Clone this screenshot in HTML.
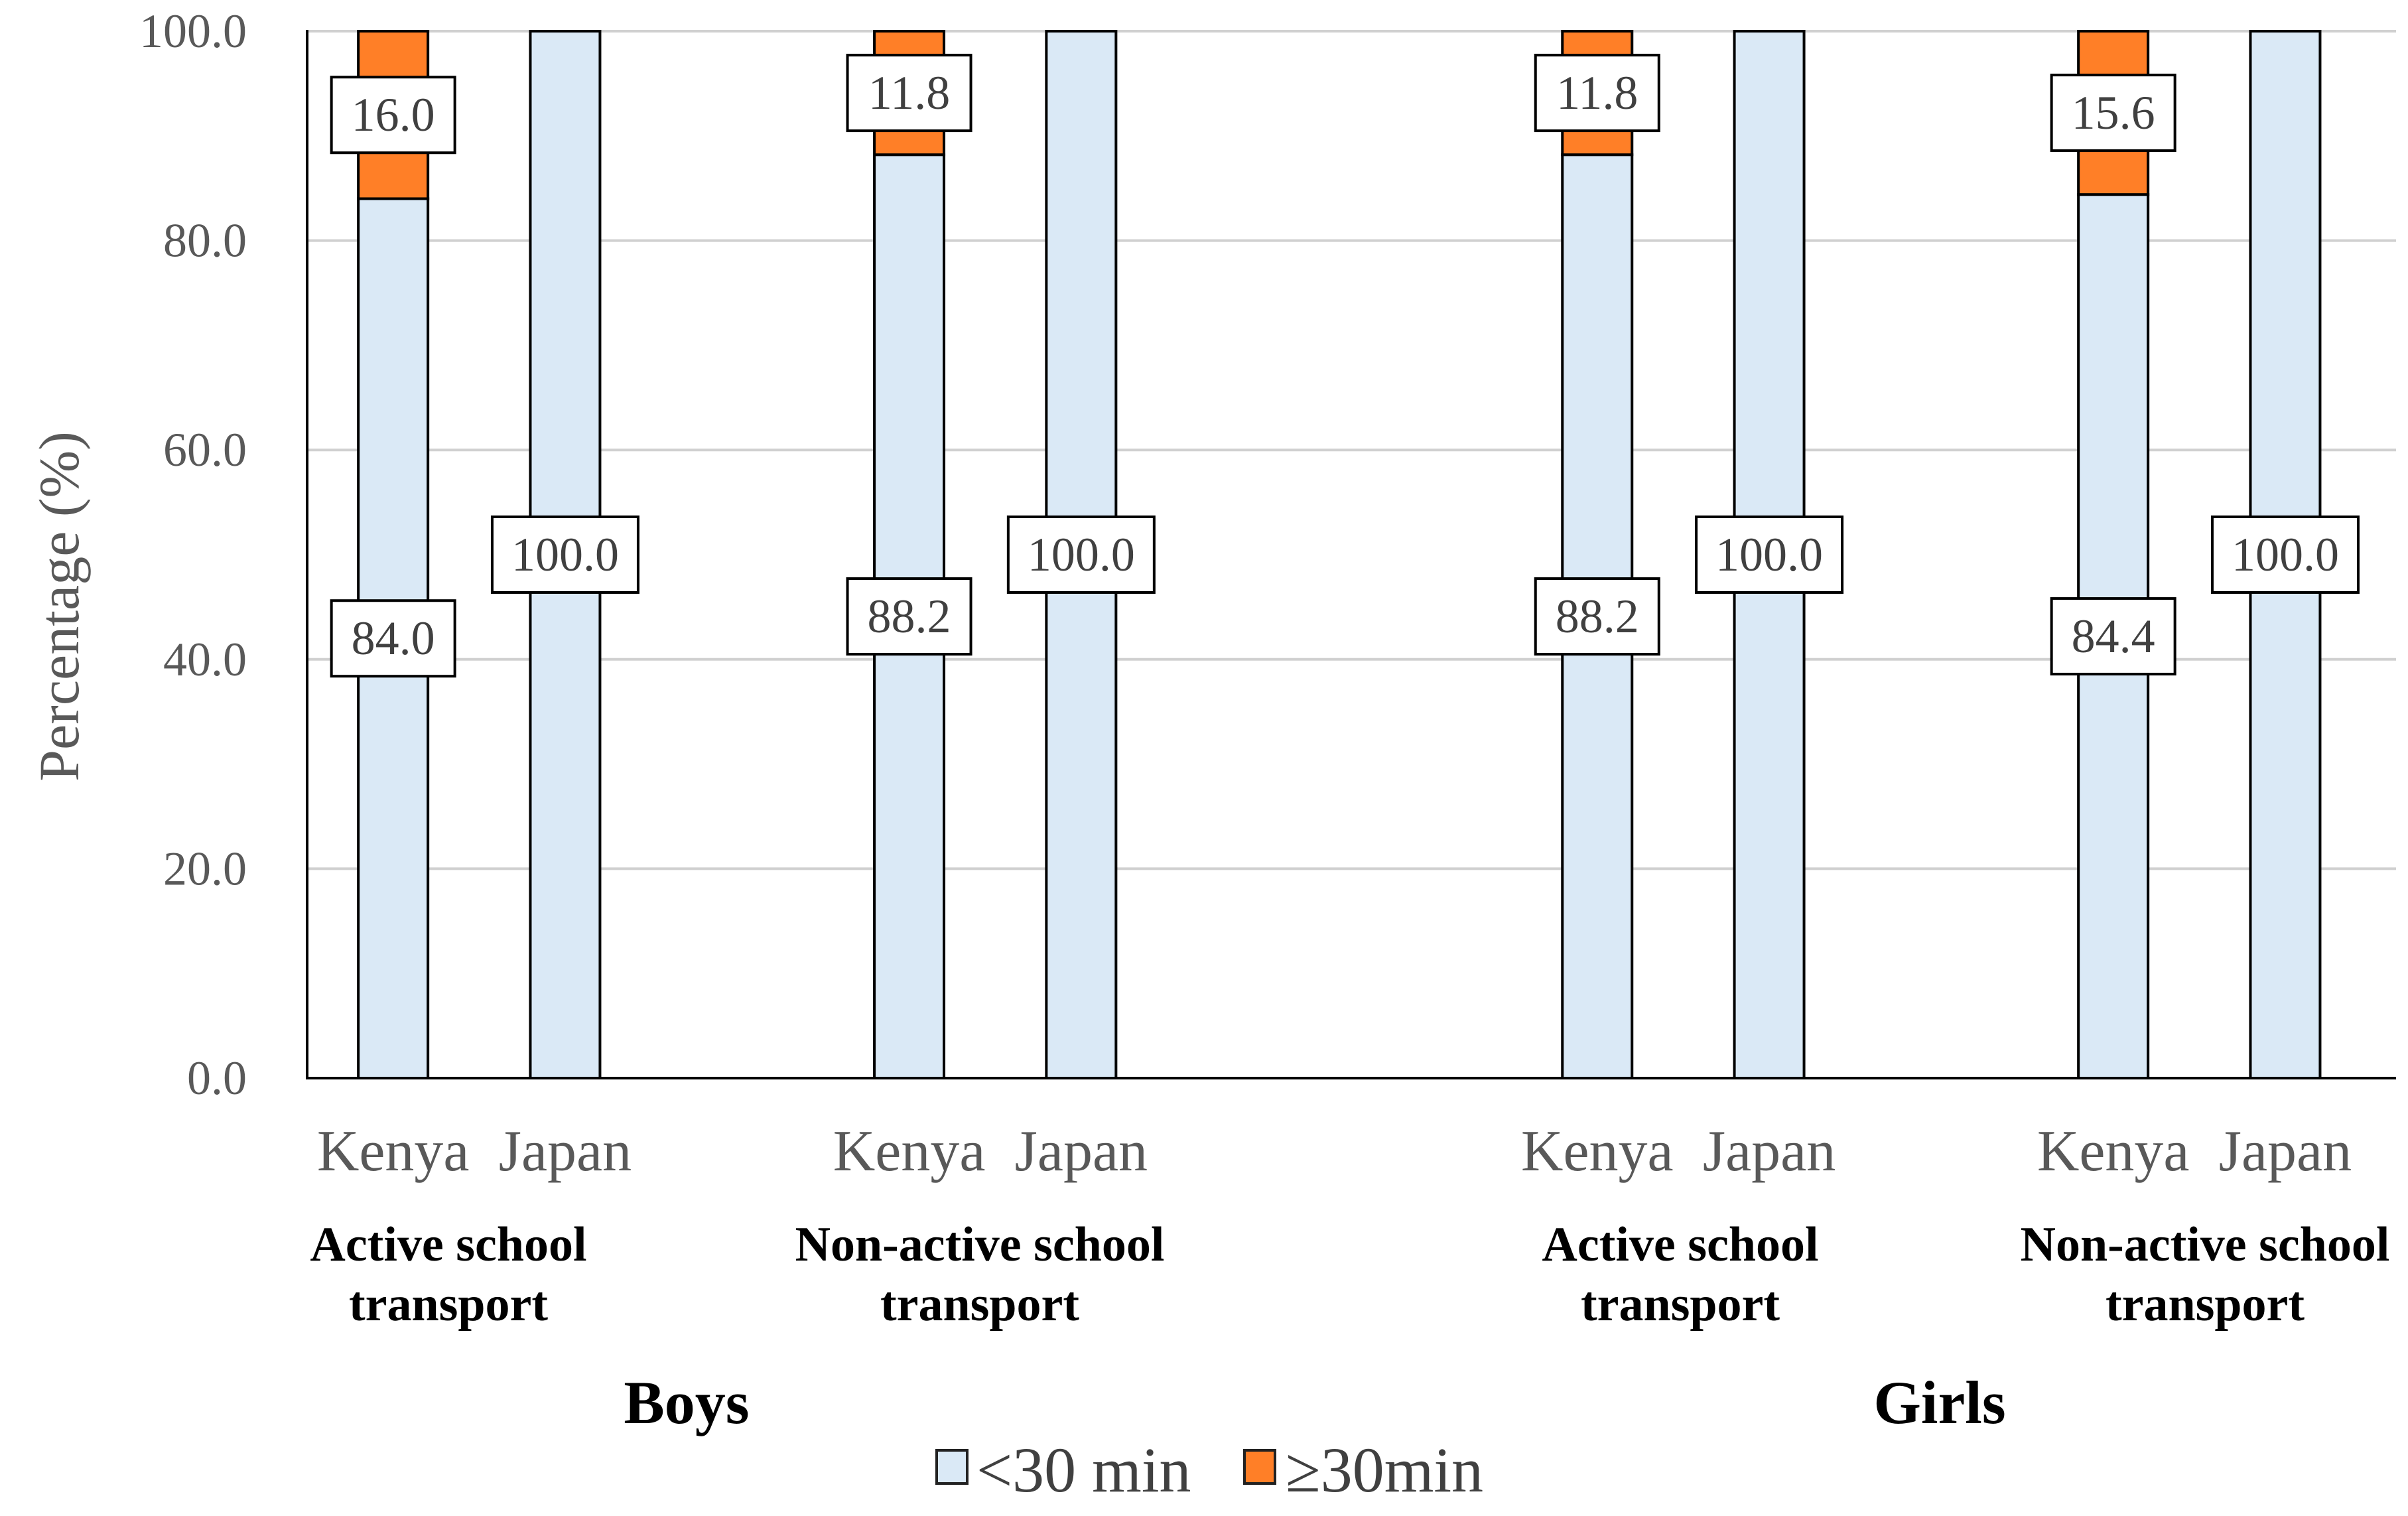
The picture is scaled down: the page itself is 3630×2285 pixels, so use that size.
<!DOCTYPE html>
<html><head><meta charset="utf-8"><style>
html,body{margin:0;padding:0;background:#fff;}
svg{display:block;}
text{font-family:"Liberation Serif",serif;}
</style></head><body>
<svg id="chart" width="3630" height="2285" viewBox="0 0 3630 2285" xmlns="http://www.w3.org/2000/svg">
<g id="grid"></g>
<g id="bars"></g>
<g id="labels"></g>
<g id="axes"></g>
<text transform="translate(118,914) rotate(-90)" text-anchor="middle" font-size="86" fill="#595959">Percentage (%)</text>
<g font-weight="bold" font-size="74" fill="#000" text-anchor="middle">
<text x="676" y="1900">Active school</text>
<text x="676" y="1990">transport</text>
<text x="1477" y="1900">Non-active school</text>
<text x="1477" y="1990">transport</text>
<text x="2533" y="1900">Active school</text>
<text x="2533" y="1990">transport</text>
<text x="3324" y="1900">Non-active school</text>
<text x="3324" y="1990">transport</text>
</g>
<text x="1035" y="2145" text-anchor="middle" font-size="92" font-weight="bold">Boys</text>
<text x="2924" y="2145" text-anchor="middle" font-size="92" font-weight="bold">Girls</text>
<g>
<rect x="1412" y="2186" width="46" height="50" fill="#dae9f6" stroke="#222" stroke-width="4"/>
<text x="1472" y="2248" font-size="96" fill="#404040">&lt;30 min</text>
<rect x="1876" y="2186" width="46" height="50" fill="#ff7f27" stroke="#222" stroke-width="4"/>
<text x="1938" y="2248" font-size="96" fill="#404040">≥30min</text>
</g>
</svg>
<script>
const countries = ["Kenya","Japan","Kenya","Japan","Kenya","Japan","Kenya","Japan"];
const slots = [0,1,3,4,7,8,10,11];
const under30 = [84.0,100.0,88.2,100.0,88.2,100.0,84.4,100.0];
const over30 = [16.0,0,11.8,0,11.8,0,15.6,0];
const yTicks = [0,20,40,60,80,100];
const NS="http://www.w3.org/2000/svg";
const X0=463, X1=3612, Y0=1625, Y100=47, SLOT=259.3, BW=105;
function y(v){return Y0-(v/100)*(Y0-Y100);}
function xc(s){return X0+(s+0.5)*SLOT;}
function mk(tag,attrs,parent){const e=document.createElementNS(NS,tag);for(const k in attrs)e.setAttribute(k,attrs[k]);parent.appendChild(e);return e;}
const grid=document.getElementById('grid'),bars=document.getElementById('bars'),labels=document.getElementById('labels'),axes=document.getElementById('axes');
yTicks.forEach(t=>{
  if(t>0){const l=mk('line',{x1:X0,x2:X1,y1:y(t),y2:y(t),stroke:'#d0d0d0','stroke-width':4},grid);
  
  }
  const tx=mk('text',{x:372,y:y(t)+24,'text-anchor':'end','font-size':72,fill:'#595959'},axes);
  tx.textContent=t.toFixed(1);
  
  
});
const ax=mk('line',{x1:X0,x2:X0,y1:Y100-2,y2:Y0,stroke:'#000','stroke-width':4},axes);


const bx=mk('line',{x1:X0-2,x2:X1,y1:Y0,y2:Y0,stroke:'#000','stroke-width':4},axes);


function label(cx,cy,txt){
  const w=txt.length>4?220:186,h=114;
  const r=mk('rect',{x:cx-w/2,y:cy-h/2,width:w,height:h,fill:'#fff',stroke:'#000','stroke-width':4},labels);
  
  
  const t=mk('text',{x:cx,y:cy+24,'text-anchor':'middle','font-size':72,fill:'#404040'},labels);
  t.textContent=txt;
  
  
}
countries.forEach((c,i)=>{
  const cx=xc(slots[i]);
  const b=mk('rect',{x:cx-BW/2,y:y(under30[i]),width:BW,height:y(0)-y(under30[i]),fill:'#dae9f6',stroke:'#000','stroke-width':4},bars);
  
  
  if(over30[i]>0){
    const o=mk('rect',{x:cx-BW/2,y:y(under30[i]+over30[i]),width:BW,height:y(under30[i])-y(under30[i]+over30[i]),fill:'#ff7f27',stroke:'#000','stroke-width':4},bars);
    
    
  }
  label(cx,y(under30[i]/2),under30[i].toFixed(1));
  if(over30[i]>0) label(cx,y(under30[i]+over30[i]/2),over30[i].toFixed(1));
  const ct=mk('text',{x:cx,y:1764,'text-anchor':'middle','font-size':88,fill:'#595959'},axes);
  ct.textContent=c;
  
  
});
</script>
</body></html>
